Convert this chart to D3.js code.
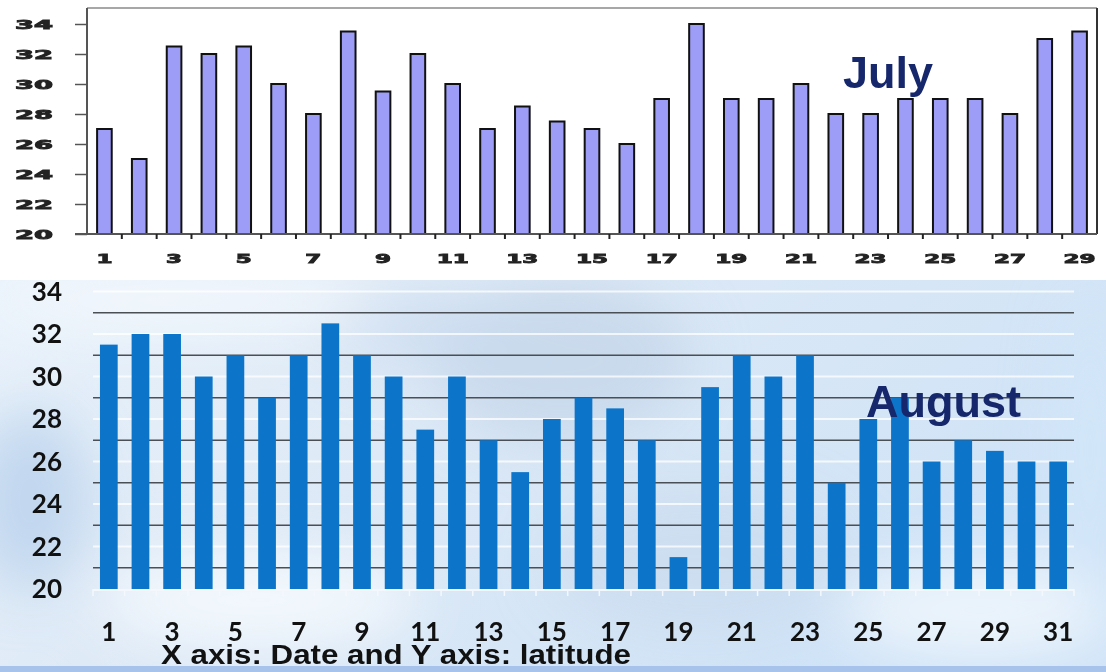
<!DOCTYPE html>
<html>
<head>
<meta charset="utf-8">
<script src="https://cdnjs.cloudflare.com/ajax/libs/d3/7.8.5/d3.min.js"></script>
<style>
  body { margin: 0; background: #fff; }
  svg { display: block; }
</style>
</head>
<body>
<svg id="chart" width="1106" height="672"></svg>
<script>
// July (top) and August (bottom) values
const julyDays = d3.range(1, 30);
const julyValues = [27, 25, 32.5, 32, 32.5, 30, 28, 33.5, 29.5, 32, 30, 27, 28.5, 27.5, 27,
                    26, 29, 34, 29, 29, 30, 28, 28, 29, 29, 29, 28, 33, 33.5];
const augDays = d3.range(1, 32);
const augValues = [31.5, 32, 32, 30, 31, 29, 31, 32.5, 31, 30, 27.5, 30, 27, 25.5, 28, 29,
                   28.5, 27, 21.5, 29.5, 31, 30, 31, 25, 28, 29, 26, 27, 26.5, 26, 26];
const yTicks = [20, 22, 24, 26, 28, 30, 32, 34];
const augGrid = [21, 23, 25, 27, 29, 31, 33];
const julyXTicks = julyDays.filter(d => d % 2 === 1);
const augXTicks = augDays.filter(d => d % 2 === 1);
const axisTitle = 'X axis: Date and Y axis: latitude';

const svg = d3.select('#chart');
const defs = svg.append('defs');

// ---------- sky background for the August panel ----------
const sky = defs.append('linearGradient').attr('id', 'sky')
  .attr('x1', 0).attr('y1', 0).attr('x2', 1).attr('y2', 0.4);
sky.append('stop').attr('offset', 0).attr('stop-color', '#e9f2fb');
sky.append('stop').attr('offset', 0.45).attr('stop-color', '#dde9f6');
sky.append('stop').attr('offset', 1).attr('stop-color', '#cfe3f7');

defs.append('filter').attr('id', 'blur')
  .attr('x', '-50%').attr('y', '-50%').attr('width', '200%').attr('height', '200%')
  .append('feGaussianBlur').attr('stdDeviation', 28);

defs.append('clipPath').attr('id', 'panel')
  .append('rect').attr('x', 0).attr('y', 280).attr('width', 1106).attr('height', 392);

svg.append('rect').attr('x', 0).attr('y', 280).attr('width', 1106).attr('height', 392)
  .attr('fill', 'url(#sky)');

const clouds = svg.append('g').attr('clip-path', 'url(#panel)')
  .append('g').attr('filter', 'url(#blur)');
[
  [560, 360, 130, 80, '#c4d6ea', 0.8],
  [420, 330, 90, 40, '#cbdcef', 0.7],
  [30, 500, 60, 90, '#b9d1ec', 0.8],
  [260, 600, 160, 50, '#f4f8fd', 0.9],
  [700, 560, 150, 70, '#c8d9ec', 0.6],
  [980, 610, 140, 50, '#f2f7fc', 0.8],
  [180, 300, 200, 25, '#f6f9fd', 0.9],
  [1090, 450, 30, 160, '#d3e7f9', 0.9]
].forEach(c => {
  clouds.append('ellipse').attr('cx', c[0]).attr('cy', c[1]).attr('rx', c[2]).attr('ry', c[3])
    .attr('fill', c[4]).attr('opacity', c[5]);
});

svg.append('rect').attr('x', 0).attr('y', 666).attr('width', 1106).attr('height', 6)
  .attr('fill', '#a7c3ec');

// ---------- July (top) ----------
const xTop = d3.scaleBand().domain(julyDays).range([87, 1097])
  .paddingInner(0.58).paddingOuter(0.29);
const yTop = d3.scaleLinear().domain([20, 34]).range([234, 24]);
const julyG = svg.append('g');

// frame
julyG.append('line').attr('x1', 87).attr('x2', 1097).attr('y1', 8).attr('y2', 8)
  .attr('stroke', '#8a8a8a').attr('stroke-width', 1.5);
julyG.append('line').attr('x1', 1097).attr('x2', 1097).attr('y1', 8).attr('y2', yTop(20))
  .attr('stroke', '#333').attr('stroke-width', 2);

julyG.selectAll('rect.july').data(julyValues).join('rect')
  .attr('class', 'july')
  .attr('x', (d, i) => xTop(julyDays[i]))
  .attr('y', d => yTop(d))
  .attr('width', xTop.bandwidth())
  .attr('height', d => yTop(20) - yTop(d))
  .attr('fill', '#9d9df7')
  .attr('stroke', '#111')
  .attr('stroke-width', 2);

// y axis
const yAxisTop = julyG.append('g').attr('transform', 'translate(87,0)')
  .call(d3.axisLeft(yTop).tickValues(yTicks).tickSize(12).tickPadding(22));
yAxisTop.select('.domain').remove();
yAxisTop.selectAll('.tick line').attr('stroke', '#555').attr('stroke-width', 1.5);
yAxisTop.selectAll('.tick text')
  .attr('font-family', 'DejaVu Sans').attr('font-weight', 'bold').attr('font-size', 13)
  .attr('fill', '#222').attr('stroke', '#222').attr('stroke-width', 0.9)
  .attr('textLength', d => String(d).length * 19)
  .attr('lengthAdjust', 'spacingAndGlyphs');
julyG.append('line').attr('x1', 87).attr('x2', 87).attr('y1', 8).attr('y2', yTop(20))
  .attr('stroke', '#555').attr('stroke-width', 2);

// x axis
julyG.append('line').attr('x1', 75).attr('x2', 1097).attr('y1', yTop(20)).attr('y2', yTop(20))
  .attr('stroke', '#555').attr('stroke-width', 2);
julyG.selectAll('line.minor').data(julyDays.slice(0, -1)).join('line')
  .attr('class', 'minor')
  .attr('x1', d => xTop(d) + xTop.step() * 0.5 + xTop.bandwidth() * 0.5)
  .attr('x2', d => xTop(d) + xTop.step() * 0.5 + xTop.bandwidth() * 0.5)
  .attr('y1', yTop(20)).attr('y2', yTop(20) + 5)
  .attr('stroke', '#222').attr('stroke-width', 2);
julyG.selectAll('text.xlab').data(julyXTicks).join('text')
  .attr('class', 'xlab')
  .attr('x', d => xTop(d) + xTop.bandwidth() / 2)
  .attr('y', 263)
  .attr('text-anchor', 'middle')
  .attr('font-family', 'DejaVu Sans').attr('font-weight', 'bold').attr('font-size', 13)
  .attr('fill', '#222').attr('stroke', '#222').attr('stroke-width', 0.9)
  .attr('textLength', d => String(d).length * 16)
  .attr('lengthAdjust', 'spacingAndGlyphs')
  .text(d => d);

julyG.append('text').attr('x', 843).attr('y', 88)
  .attr('font-family', 'Liberation Sans').attr('font-weight', 'bold').attr('font-size', 45)
  .attr('fill', '#16286b').text('July');

// ---------- August (bottom) ----------
const xBot = d3.scaleBand().domain(augDays).range([93, 1074])
  .paddingInner(0.44).paddingOuter(0.22);
const yBot = d3.scaleLinear().domain([20, 34]).range([589, 291.5]);
const augG = svg.append('g');

augG.selectAll('line.faint').data(yTicks.slice(1)).join('line')
  .attr('class', 'faint')
  .attr('x1', 93).attr('x2', 1074)
  .attr('y1', d => yBot(d)).attr('y2', d => yBot(d))
  .attr('stroke', '#ffffff').attr('stroke-opacity', 0.75).attr('stroke-width', 2);

augG.selectAll('line.grid').data(augGrid).join('line')
  .attr('class', 'grid')
  .attr('x1', 93).attr('x2', 1074)
  .attr('y1', d => yBot(d)).attr('y2', d => yBot(d))
  .attr('stroke', '#4a4f55').attr('stroke-width', 1.5);

augG.selectAll('rect.aug').data(augValues).join('rect')
  .attr('class', 'aug')
  .attr('x', (d, i) => xBot(augDays[i]))
  .attr('y', d => yBot(d))
  .attr('width', xBot.bandwidth())
  .attr('height', d => yBot(20) - yBot(d))
  .attr('fill', '#0c75c9');

// baseline with small pale ticks
augG.append('line').attr('x1', 93).attr('x2', 1074).attr('y1', yBot(20) + 1).attr('y2', yBot(20) + 1)
  .attr('stroke', '#f4f8fc').attr('stroke-width', 2);
augG.selectAll('line.btick').data([0].concat(augDays)).join('line')
  .attr('class', 'btick')
  .attr('x1', d => 93 + d * xBot.step()).attr('x2', d => 93 + d * xBot.step())
  .attr('y1', yBot(20)).attr('y2', yBot(20) + 7)
  .attr('stroke', '#f4f8fc').attr('stroke-width', 1.5);

augG.selectAll('text.ylab').data(yTicks).join('text')
  .attr('class', 'ylab')
  .attr('x', 62)
  .attr('y', d => yBot(d))
  .attr('dy', '0.36em')
  .attr('text-anchor', 'end')
  .attr('font-family', 'Lato').attr('font-weight', 'bold').attr('font-size', 26)
  .attr('fill', '#111')
  .text(d => d);

augG.selectAll('text.xlab').data(augXTicks).join('text')
  .attr('class', 'xlab')
  .attr('x', d => xBot(d) + xBot.bandwidth() / 2)
  .attr('y', 641)
  .attr('text-anchor', 'middle')
  .attr('font-family', 'Lato').attr('font-weight', 'bold').attr('font-size', 26)
  .attr('fill', '#111')
  .text(d => d);

augG.append('text').attr('x', 866).attr('y', 417)
  .attr('font-family', 'Liberation Sans').attr('font-weight', 'bold').attr('font-size', 45)
  .attr('fill', '#16286b').text('August');

svg.append('text').attr('x', 161).attr('y', 664)
  .attr('font-family', 'Liberation Sans').attr('font-weight', 'bold').attr('font-size', 27)
  .attr('textLength', 470).attr('lengthAdjust', 'spacingAndGlyphs')
  .attr('fill', '#111').text(axisTitle);
</script>
</body>
</html>
